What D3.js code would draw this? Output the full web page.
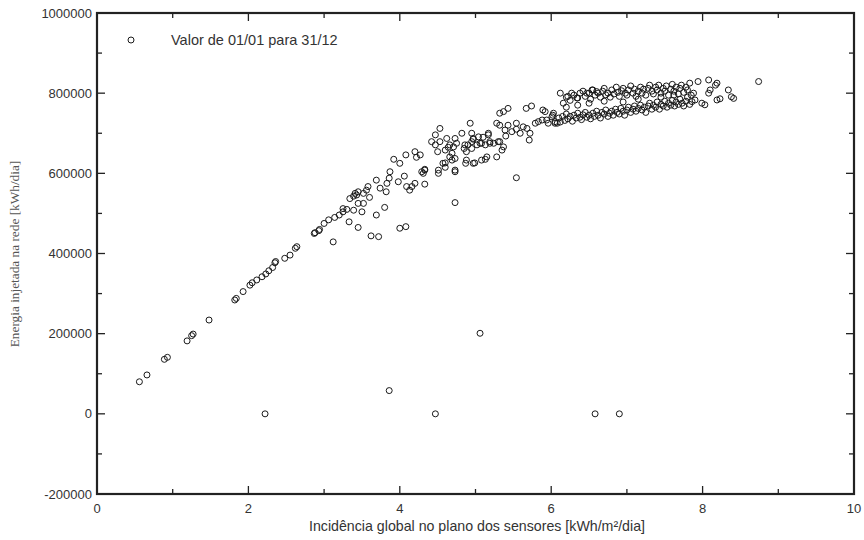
<!DOCTYPE html>
<html><head><meta charset="utf-8">
<script src="https://cdn.jsdelivr.net/npm/d3@7"></script>
<style>body{margin:0;background:#fff}svg{display:block}</style>
</head><body>
<script>
// Data: [incidência (kWh/m²/dia), energia injetada (kWh/dia)]
const xTicks = [0, 2, 4, 6, 8, 10];
const yTicks = [-200000, 0, 200000, 400000, 600000, 800000, 1000000];
const legendLabel = "Valor de 01/01 para 31/12";
const xLabel = "Incidência global no plano dos sensores [kWh/m²/dia]";
const yLabel = "Energia injetada na rede [kWh/dia]";

const lowPoints = [
 [0.56,80000],[0.66,97000],[0.89,136000],[0.93,141000],[1.19,182000],[1.25,195000],[1.27,199000],
 [1.48,234000],[1.82,284000],[1.84,288000],[1.93,305000],[2.02,321000],[2.05,327000],[2.11,334000],
 [2.18,342000],[2.23,349000],[2.27,357000],[2.32,365000],[2.35,377000],[2.36,380000],[2.48,388000],
 [2.55,396000],[2.62,413000],[2.64,417000],[2.87,450000],[2.93,457000],[2.88,452000],[2.94,460000]
];
const midPoints = [
 [3.12,429000],[3.06,484000],[3.14,490000],[3.20,496000],[3.25,504000],[3.30,510000],[3.33,479000],
 [3.45,465000],[3.39,508000],[3.50,504000],[3.34,537000],[3.39,543000],[3.41,550000],[3.45,554000],
 [3.43,546000],[3.52,550000],[3.56,558000],[3.58,567000],[3.45,525000],[3.52,525000],[3.69,496000],
 [3.80,515000],[3.62,444000],[3.72,442000],[4.00,463000],[4.08,467000],[3.69,583000],[3.83,575000],
 [3.86,588000],[3.87,604000],[3.98,579000],[4.06,593000],[4.16,567000],[4.20,575000],[3.92,635000],
 [4.00,625000],[4.08,646000],[4.20,654000],[4.22,640000],[4.29,604000],[4.33,610000],[4.33,573000],
 [3.74,563000],[3.82,554000],[4.09,567000],[4.13,558000],[3.60,540000],[3.25,512000],[3.00,475000],
 [4.47,671000],[4.50,654000],[4.53,679000],[4.53,712000],[4.62,687000],[4.64,665000],[4.66,641000],
 [4.69,650000],[4.73,637000],[4.75,675000],[4.82,700000],[4.85,662000],[4.87,625000],[4.90,671000],
 [4.93,725000],[4.95,700000],[4.97,685000],[4.99,626000],[5.06,675000],[5.10,690000],[5.13,635000],
 [5.17,696000],[5.19,675000],[5.24,675000],[5.28,641000],[5.28,725000],[5.30,679000],[4.60,626000],
 [4.51,600000],[4.60,615000],[4.73,604000],[4.73,527000],[4.47,696000],[4.42,679000],[4.73,687000],
 [4.66,671000],[4.71,666000],[4.86,671000],[4.95,679000],[4.97,687000],[5.04,691000],[5.08,675000],
 [5.13,671000],[5.17,700000],[5.19,679000],[5.02,671000],[4.95,662000],[4.88,654000],[4.88,633000],
 [4.97,625000],[5.08,633000],[5.15,641000],[4.60,658000],[4.69,633000],[4.57,625000],[4.51,608000],
 [4.73,608000],[4.33,608000],[4.31,600000],[4.27,646000],[5.54,589000],
 [5.32,750000],[5.37,754000],[5.43,762000],[5.67,762000],[5.74,768000],[5.32,720000],[5.39,708000],
 [5.40,693000],[5.32,679000],[5.37,666000],[5.35,658000],[5.43,720000],[5.48,704000],[5.54,725000],
 [5.54,710000],[5.59,700000],[5.63,716000],[5.68,712000],[5.72,700000],[5.71,683000],[5.79,725000],
 [5.83,729000],[5.88,733000],[5.92,754000],[5.96,725000],[6.01,741000],[6.03,750000],[6.05,729000],
 [6.08,725000]
];
const upperBand = [
 [6.12,800000],[6.20,790000],[6.25,782000],[6.30,795000],[6.35,788000],[6.38,800000],[6.42,805000],
 [6.45,792000],[6.50,800000],[6.52,785000],[6.55,808000],[6.58,795000],[6.62,800000],[6.65,790000],
 [6.68,805000],[6.70,812000],[6.72,796000],[6.75,800000],[6.78,790000],[6.80,808000],[6.83,798000],
 [6.86,815000],[6.88,802000],[6.90,792000],[6.93,806000],[6.95,812000],[6.98,800000],[7.00,795000],
 [7.02,808000],[7.05,818000],[7.08,800000],[7.10,810000],[7.12,792000],[7.15,805000],[7.18,815000],
 [7.20,800000],[7.22,810000],[7.25,795000],[7.28,812000],[7.30,820000],[7.33,805000],[7.35,798000],
 [7.38,815000],[7.40,808000],[7.42,820000],[7.45,800000],[7.48,812000],[7.50,805000],[7.52,818000],
 [7.55,795000],[7.58,810000],[7.60,822000],[7.62,805000],[7.65,815000],[7.68,798000],[7.70,812000],
 [7.72,820000],[7.75,802000],[7.78,815000],[7.80,808000],[7.83,825000],[7.85,795000],
 [6.16,775000],[6.22,792000],[6.27,800000],[6.34,788000],[6.47,800000],[6.54,808000],[6.60,804000]
];
const lowerBand = [
 [5.89,758000],[5.94,733000],[6.02,745000],[6.05,725000],[6.10,738000],[6.12,728000],[6.15,742000],
 [6.18,732000],[6.20,748000],[6.22,736000],[6.25,742000],[6.28,730000],[6.30,745000],[6.33,738000],
 [6.35,750000],[6.38,740000],[6.40,734000],[6.42,746000],[6.45,752000],[6.47,740000],[6.50,745000],
 [6.52,736000],[6.55,750000],[6.57,742000],[6.60,755000],[6.62,745000],[6.65,738000],[6.67,752000],
 [6.70,748000],[6.72,758000],[6.75,742000],[6.77,750000],[6.80,755000],[6.82,745000],[6.85,760000],
 [6.87,752000],[6.90,748000],[6.92,762000],[6.95,755000],[6.97,745000],[7.00,758000],[7.02,765000],
 [7.05,752000],[7.08,760000],[7.10,768000],[7.12,755000],[7.15,762000],[7.18,770000],[7.20,758000],
 [7.23,765000],[7.25,752000],[7.28,768000],[7.30,775000],[7.33,760000],[7.35,770000],[7.38,765000],
 [7.40,778000],[7.43,760000],[7.45,772000],[7.48,768000],[7.50,780000],[7.53,765000],[7.55,775000],
 [7.58,770000],[7.60,782000],[7.63,768000],[7.65,778000],[7.68,772000],[7.70,785000],[7.73,775000],
 [7.75,768000],[7.78,780000],[7.80,790000],[7.83,772000],
 [6.35,770000],[6.50,775000],[6.70,780000],[6.95,778000],[7.15,785000],[7.45,790000],[7.62,795000],
 [6.20,765000],[7.88,800000]
];
const tailPoints = [
 [7.94,829000],[8.08,833000],[8.19,825000],[8.17,820000],[8.10,808000],[8.08,800000],[8.34,808000],
 [8.38,791000],[8.41,787000],[8.74,829000],[7.99,775000],[8.03,771000],[8.19,783000],[8.23,786000],
 [7.90,783000],[7.86,779000]
];
const outliers = [
 [2.22,0],[3.86,58000],[4.47,0],[5.06,201000],[6.58,0],[6.90,0]
];

const W = 864, H = 540;
const m = {l:97, r:10, t:13, b:46};
const svg = d3.select("body").append("svg").attr("width", W).attr("height", H);
const x = d3.scaleLinear().domain([0,10]).range([m.l, W - m.r]);
const y = d3.scaleLinear().domain([-200000,1000000]).range([H - m.b, m.t]);

const axisColor = "#222", textColor = "#333";
const font = "Liberation Sans, Arial, sans-serif";

// minor ticks
const xMinor = d3.range(1, 10, 2);
const yMinor = d3.range(-100000, 1000000, 200000);
const g = svg.append("g");
function ticks(vals, len, width) {
  vals.forEach(v => {
    g.append("line").attr("x1", x(v)).attr("x2", x(v)).attr("y1", y.range()[0]).attr("y2", y.range()[0]-len)
      .attr("stroke", axisColor).attr("stroke-width", width);
    g.append("line").attr("x1", x(v)).attr("x2", x(v)).attr("y1", y.range()[1]).attr("y2", y.range()[1]+len)
      .attr("stroke", axisColor).attr("stroke-width", width);
  });
}
function yticks(vals, len, width) {
  vals.forEach(v => {
    g.append("line").attr("y1", y(v)).attr("y2", y(v)).attr("x1", x.range()[0]).attr("x2", x.range()[0]+len)
      .attr("stroke", axisColor).attr("stroke-width", width);
    g.append("line").attr("y1", y(v)).attr("y2", y(v)).attr("x1", x.range()[1]).attr("x2", x.range()[1]-len)
      .attr("stroke", axisColor).attr("stroke-width", width);
  });
}
ticks(xTicks, 8, 1.3); ticks(xMinor, 5, 1.3);
yticks(yTicks, 8, 1.3); yticks(yMinor, 5, 1.3);

// frame
svg.append("rect").attr("x", x(0)).attr("y", y(1000000))
  .attr("width", x(10)-x(0)).attr("height", y(-200000)-y(1000000))
  .attr("fill", "none").attr("stroke", axisColor).attr("stroke-width", 2.2);

// tick labels
svg.append("g").selectAll("text").data(xTicks).join("text")
  .attr("x", d => x(d)).attr("y", y(-200000) + 19)
  .attr("text-anchor", "middle").attr("font-family", font).attr("font-size", 13)
  .attr("fill", textColor).text(d => d);
svg.append("g").selectAll("text").data(yTicks).join("text")
  .attr("x", x(0) - 5).attr("y", d => y(d) + 4.5)
  .attr("text-anchor", "end").attr("font-family", font).attr("font-size", 13)
  .attr("fill", textColor).text(d => d);

// axis labels
svg.append("text").attr("x", 477).attr("y", 531)
  .attr("text-anchor", "middle").attr("font-family", font).attr("font-size", 14.2)
  .attr("fill", textColor).text(xLabel);
svg.append("text").attr("transform", `translate(19,254) rotate(-90)`)
  .attr("text-anchor", "middle").attr("font-family", "Liberation Serif, Times New Roman, serif")
  .attr("font-size", 13.3).attr("fill", "#555").text(yLabel);

// points
const all = [].concat(lowPoints, midPoints, upperBand, lowerBand, tailPoints, outliers);
svg.append("g").selectAll("circle").data(all).join("circle")
  .attr("cx", d => x(d[0])).attr("cy", d => y(d[1])).attr("r", 3)
  .attr("fill", "none").attr("stroke", "#1a1a1a").attr("stroke-width", 1);

// legend
svg.append("circle").attr("cx", 131).attr("cy", 40).attr("r", 3)
  .attr("fill", "none").attr("stroke", "#1a1a1a").attr("stroke-width", 1);
svg.append("text").attr("x", 171).attr("y", 45).attr("font-family", font).attr("font-size", 14.5)
  .attr("fill", textColor).text(legendLabel);
</script>
</body></html>
